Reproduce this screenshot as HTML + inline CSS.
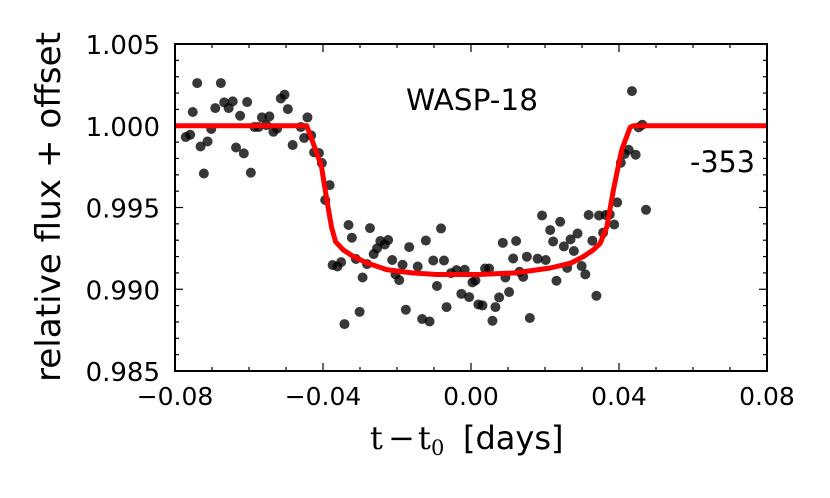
<!DOCTYPE html>
<html><head><meta charset="utf-8"><style>
html,body{margin:0;padding:0;background:#fff;}
svg{display:block;}
text{font-family:"DejaVu Sans","Liberation Sans",sans-serif;fill:#000;}
</style></head><body>
<svg id="chart" width="830" height="498" viewBox="0 0 830 498" xmlns="http://www.w3.org/2000/svg">
<rect x="0" y="0" width="830" height="498" fill="#fff"/>
<g id="ticks"></g>
<g id="points"></g>
<g id="model"></g>
<rect x="175" y="44" width="592" height="327" fill="none" stroke="#000" stroke-width="2"/>
<g id="labels"></g>
<text x="406" y="110" font-size="29" textLength="132" lengthAdjust="spacingAndGlyphs">WASP-18</text>
<text x="690" y="172" font-size="29" textLength="65" lengthAdjust="spacingAndGlyphs">-353</text>
<text transform="translate(60,382) rotate(-90)" font-size="34" textLength="350" lengthAdjust="spacingAndGlyphs">relative flux + offset</text>
<text y="449" font-size="32"><tspan x="370" font-family="DejaVu Serif, Liberation Serif, serif">t</tspan><tspan x="388" font-family="DejaVu Serif, Liberation Serif, serif">−</tspan><tspan x="418" font-family="DejaVu Serif, Liberation Serif, serif">t</tspan><tspan x="431" font-family="DejaVu Serif, Liberation Serif, serif" font-size="21" dy="6">0</tspan><tspan x="463" dy="-6">[days]</tspan></text>
</svg>
<script>
const obsX = [-0.0771,-0.0759,-0.0740,-0.0752,-0.0731,-0.0722,-0.0712,-0.0702,-0.0691,-0.0676,-0.0667,-0.0655,-0.0644,-0.0635,-0.0624,-0.0614,-0.0605,-0.0595,-0.0585,-0.0574,-0.0565,-0.0553,-0.0545,-0.0534,-0.0524,-0.0514,-0.0504,-0.0495,-0.0482,-0.0460,-0.0451,-0.0442,-0.0432,-0.0424,-0.0411,-0.0403,-0.0382,-0.0394,-0.0374,-0.0361,-0.0351,-0.0342,-0.0331,-0.0322,-0.0311,-0.0301,-0.0293,-0.0281,-0.0273,-0.0263,-0.0254,-0.0245,-0.0233,-0.0224,-0.0213,-0.0204,-0.0194,-0.0185,-0.0176,-0.0167,-0.0144,-0.0132,-0.0122,-0.0112,-0.0102,-0.0092,-0.0081,-0.0073,-0.0066,-0.0054,-0.0039,-0.0026,-0.0017,-0.0005,0.0004,0.0012,0.0020,0.0031,0.0038,0.0049,0.0058,0.0066,0.0076,0.0086,0.0093,0.0103,0.0114,0.0122,0.0131,0.0141,0.0151,0.0159,0.0180,0.0202,0.0192,0.0214,0.0222,0.0231,0.0241,0.0251,0.0260,0.0269,0.0278,0.0288,0.0299,0.0309,0.0318,0.0328,0.0339,0.0346,0.0357,0.0364,0.0375,0.0387,0.0395,0.0405,0.0415,0.0426,0.0435,0.0445,0.0453,0.0463,0.0473];
const obsFlux = [0.99931,0.99945,1.00261,1.00084,0.99873,0.99708,0.99904,0.99980,1.00108,1.00261,1.00143,1.00108,1.00149,0.99867,1.00061,0.99831,1.00145,0.99713,0.99992,0.99992,1.00051,1.00004,1.00057,0.99963,0.99983,1.00167,1.00190,1.00102,0.99882,0.99992,0.99925,1.00051,0.99941,0.99837,0.99833,0.99772,0.99637,0.99546,0.99148,0.99139,0.99166,0.98787,0.99393,0.99315,0.99185,0.98862,0.99072,0.99154,0.99374,0.99215,0.99250,0.99295,0.99274,0.99301,0.99179,0.99091,0.99056,0.99150,0.98875,0.99258,0.99139,0.98818,0.99298,0.98803,0.99176,0.99020,0.99372,0.99176,0.98891,0.99099,0.99117,0.98972,0.99119,0.98952,0.99042,0.99054,0.98907,0.98901,0.99127,0.99127,0.98807,0.98891,0.98950,0.99284,0.99072,0.98983,0.99188,0.99295,0.99107,0.99076,0.99199,0.98824,0.99187,0.99179,0.99451,0.99362,0.99292,0.99052,0.99413,0.99262,0.99131,0.99305,0.99234,0.99341,0.99142,0.99091,0.99454,0.99297,0.98960,0.99451,0.99346,0.99454,0.99458,0.99396,0.99531,0.99774,0.99827,0.99853,1.00212,0.99823,0.99990,1.00006,0.99486];
const modelX = [-0.08,-0.0444,-0.0426,-0.0404,-0.0390,-0.0377,-0.0366,-0.0345,-0.0318,-0.0280,-0.0228,-0.0160,-0.0093,0.0020,0.0120,0.0214,0.0270,0.0304,0.0330,0.0349,0.0367,0.0385,0.0407,0.0430,0.0439,0.08];
const modelFlux = [1.0,1.0,0.9989,0.9975,0.9955,0.9938,0.9929,0.9924,0.9920,0.9916,0.9912,0.9910,0.9909,0.9909,0.9910,0.9913,0.9916,0.9920,0.9924,0.9928,0.9938,0.9961,0.9985,0.9999,1.0,1.0];
const xTicks = [-0.08,-0.04,0.00,0.04,0.08];
const xTickLabels = ["\u22120.08","\u22120.04","0.00","0.04","0.08"];
const yTicks = [0.985,0.990,0.995,1.000,1.005];
const yTickLabels = ["0.985","0.990","0.995","1.000","1.005"];

const NS = "http://www.w3.org/2000/svg";
const L=175,R=767,T=44,B=371;
const xMin=-0.08,xMax=0.08,yMin=0.985,yMax=1.005;
function sx(v){return L+(v-xMin)/(xMax-xMin)*(R-L);}
function sy(v){return B-(v-yMin)/(yMax-yMin)*(B-T);}
function mk(tag,attrs,parent){const e=document.createElementNS(NS,tag);for(const k in attrs)e.setAttribute(k,attrs[k]);parent.appendChild(e);return e;}

const tg=document.getElementById('ticks');
for(let i=0;i<=16;i++){
  const v=xMin+i*0.01; const x=sx(v); const major=(i%4===0); const len=major?8:4;
  let t=mk('line',{x1:x,y1:B,x2:x,y2:B-len,stroke:'#000','stroke-width':1.2},tg);
  
  
  t=mk('line',{x1:x,y1:T,x2:x,y2:T+len,stroke:'#000','stroke-width':1.2},tg);
  
  
}
for(let i=0;i<=20;i++){
  const v=yMin+i*0.001; const y=sy(v); const major=(i%5===0); const len=major?8:4;
  let t=mk('line',{x1:L,y1:y,x2:L+len,y2:y,stroke:'#000','stroke-width':1.2},tg);
  
  
  t=mk('line',{x1:R,y1:y,x2:R-len,y2:y,stroke:'#000','stroke-width':1.2},tg);
  
  
}
const lg=document.getElementById('labels');
xTicks.forEach((v,i)=>{
  const t=mk('text',{x:sx(v),y:405,'font-size':25,'text-anchor':'middle'},lg);
  t.textContent=xTickLabels[i];
  
  
});
yTicks.forEach((v,i)=>{
  const t=mk('text',{x:160,y:sy(v)+10,'font-size':26,'text-anchor':'end'},lg);
  t.textContent=yTickLabels[i];
  
  
});
const pg=document.getElementById('points');
obsX.forEach((v,i)=>{
  const c=mk('circle',{cx:sx(v),cy:sy(obsFlux[i]),r:5,fill:'#000','fill-opacity':0.78},pg);
  
  
});
const mg=document.getElementById('model');
const d=modelX.map((v,i)=>(i?'L':'M')+sx(v).toFixed(1)+','+sy(modelFlux[i]).toFixed(1)).join(' ');
const p=mk('path',{d:d,fill:'none',stroke:'#ff0000','stroke-width':5,'stroke-linejoin':'round'},mg);


</script>
</body></html>
